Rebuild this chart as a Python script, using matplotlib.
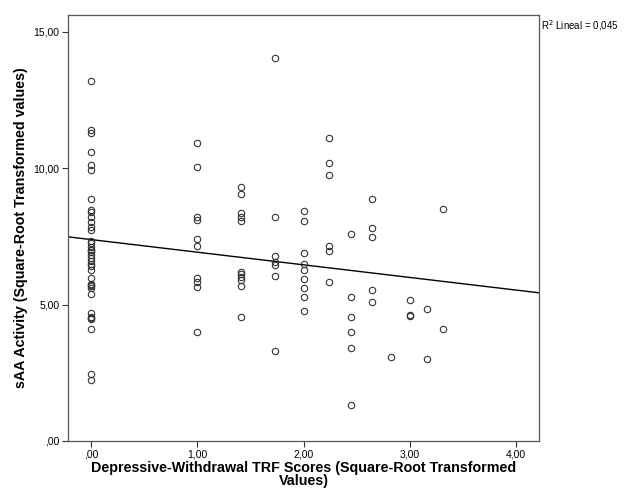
import matplotlib
matplotlib.use('Agg')
import matplotlib.pyplot as plt
import numpy as np

plt.rcParams['font.family'] = ['Liberation Sans', 'DejaVu Sans']

# square-root transformed TRF scores (x) and sAA activity (y)
x0 = [0.0] * 38
y0 = [13.19, 11.39, 11.29, 10.58, 10.11, 9.93, 8.85, 8.46, 8.40, 8.21, 8.03,
      7.75, 7.33, 7.26, 7.11, 6.99, 6.91, 6.81, 6.69, 6.50, 6.26, 5.99, 5.77,
      5.68, 5.59, 5.40, 4.69, 4.55, 4.46, 4.12, 2.47, 2.25, 7.83, 7.00, 6.60,
      5.72, 4.50, 6.40]
x1 = [1.0] * 10
y1 = [10.93, 10.05, 8.21, 8.10, 7.42, 7.14, 5.99, 5.83, 5.65, 4.01]
x2 = [1.414] * 11
y2 = [9.29, 9.04, 8.34, 8.21, 8.05, 6.20, 6.11, 6.01, 5.89, 5.67, 4.54]
x3 = [1.732] * 7
y3 = [14.05, 8.21, 6.77, 6.56, 6.44, 6.05, 3.29]
x4 = [2.0] * 8
y4 = [8.42, 8.07, 6.89, 6.48, 6.26, 5.95, 5.62, 5.28]
x4b = [2.0]
y4b = [4.76]
x5 = [2.236] * 6
y5 = [11.11, 10.19, 9.73, 7.15, 6.96, 5.84]
x6 = [2.449] * 6
y6 = [7.58, 5.27, 4.54, 4.00, 3.39, 1.31]
x7 = [2.646] * 5
y7 = [8.86, 7.80, 7.46, 5.53, 5.10]
x8 = [2.828, 3.0, 3.0, 3.0, 3.162, 3.162, 3.317, 3.317]
y8 = [3.08, 5.16, 4.63, 4.58, 4.85, 3.01, 4.10, 8.49]

intercept = 7.38
slope = -0.462
r2_text = 'R$^2$ Lineal = 0,045'

xs = np.array(x0 + x1 + x2 + x3 + x4 + x4b + x5 + x6 + x7 + x8)
ys = np.array(y0 + y1 + y2 + y3 + y4 + y4b + y5 + y6 + y7 + y8)

xticks = [0, 1, 2, 3, 4]
xticklabels = [',00', '1,00', '2,00', '3,00', '4,00']
yticks = [0, 5, 10, 15]
yticklabels = [',00', '5,00', '10,00', '15,00']

fig = plt.figure(figsize=(6.24, 4.99), dpi=100)
ax = fig.add_axes([68/624, 1 - 441/499, (539 - 68)/624, (441 - 15)/499])

ax.plot(xs, ys, 'o', mfc='none', mec='#333333', ms=4.6, mew=0.8, zorder=3)

xlim = (-0.22, 4.22)
lx = np.array(xlim)
ax.plot(lx, intercept + slope * lx, color='black', lw=1.0, zorder=2)

ax.set_xlim(*xlim)
ax.set_ylim(0, 15.61)
ax.set_xticks(xticks)
ax.set_xticklabels(xticklabels, fontsize=7.5)
ax.set_yticks(yticks)
ax.set_yticklabels(yticklabels, fontsize=7.5)
ax.tick_params(direction='out', length=4, width=0.8, color='#333333', pad=2)
for s in ax.spines.values():
    s.set_color('#555555')
    s.set_linewidth(0.9)

ax.set_xlabel('Depressive-Withdrawal TRF Scores (Square-Root Transformed\nValues)',
              fontsize=10.3, fontweight='bold', linespacing=0.9, labelpad=1)
ax.set_ylabel('sAA Activity (Square-Root Transformed values)',
              fontsize=10.3, fontweight='bold', labelpad=4)

fig.text(541/624, 1 - 26/499, r2_text, fontsize=7, va='center', ha='left')

fig.savefig('out.png', dpi=100)
